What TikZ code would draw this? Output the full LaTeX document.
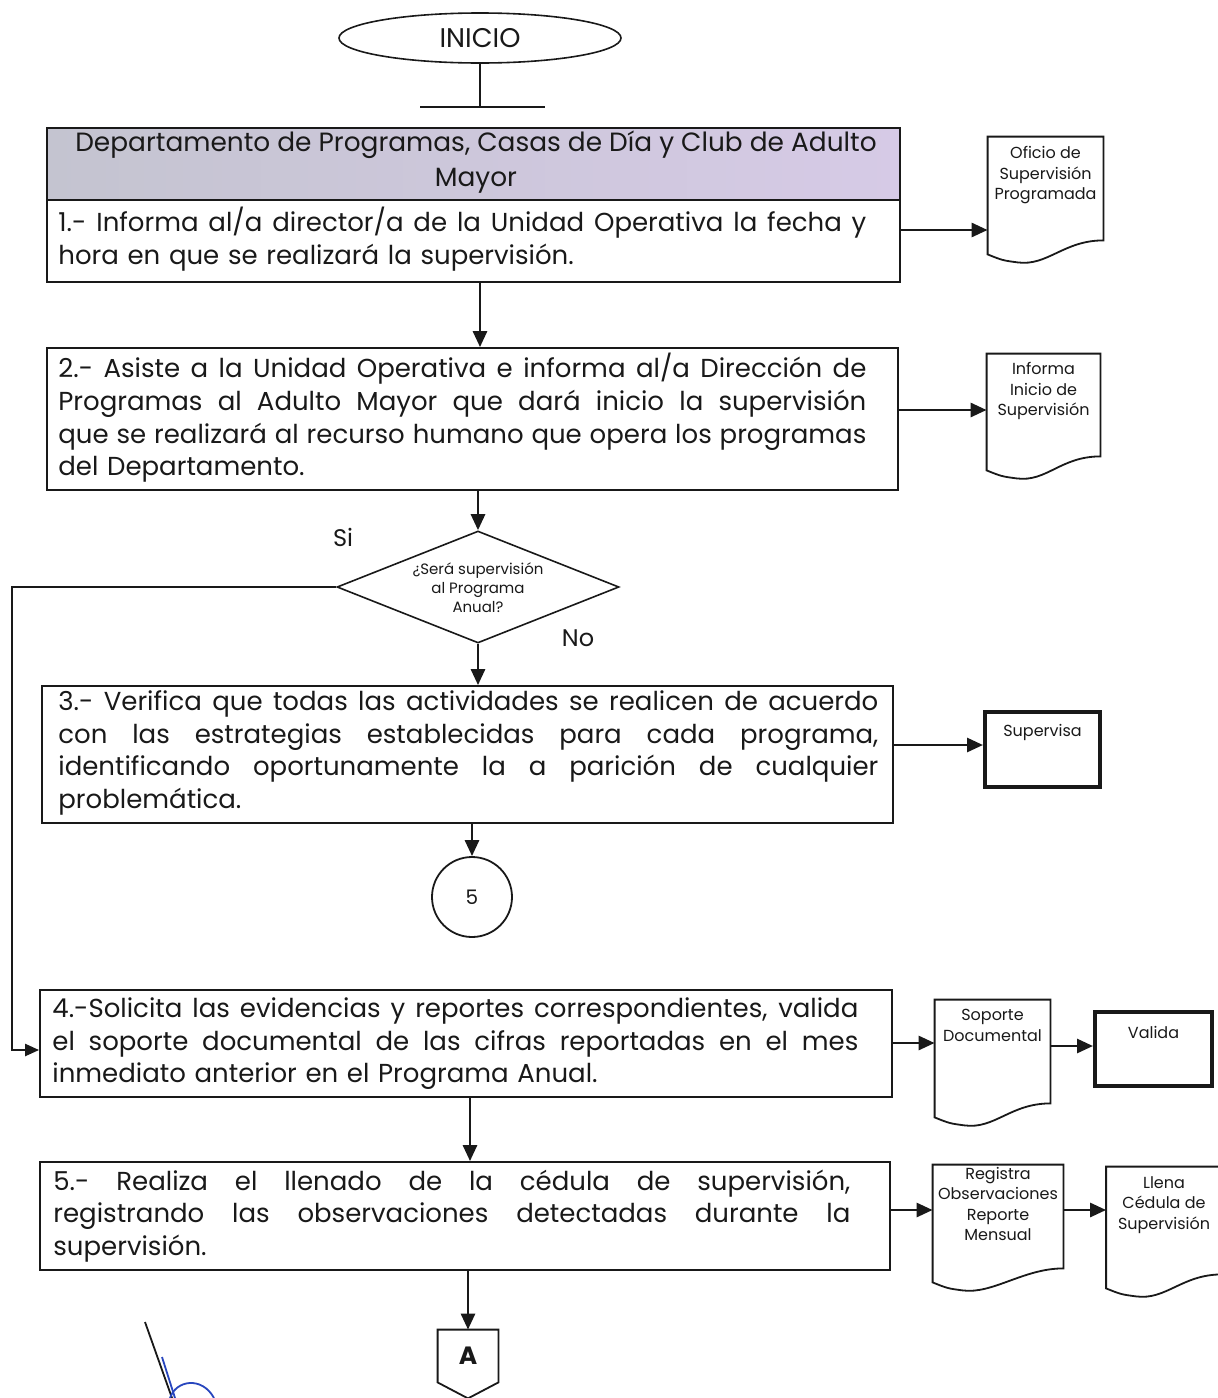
\documentclass[tikz,border=0pt]{standalone}
\usepackage{fontspec}
\setmainfont{Poppins}
\usetikzlibrary{arrows.meta,calc,shapes.geometric}

\definecolor{hdrA}{RGB}{196,196,208}
\definecolor{hdrB}{RGB}{214,202,230}
\definecolor{ink}{RGB}{25,25,25}
\definecolor{sigblue}{RGB}{40,70,190}

% one justified line of a given width (word spaces allowed to stretch)
\newcommand\jl[2]{\makebox[#1][s]{\spaceskip=\fontdimen2\font plus 1fil minus \fontdimen4\font
  \xspaceskip=\spaceskip\relax #2}}

% outline of a document symbol around a named node
\newcommand\docoutline[1]{%
  \draw[docline] (#1.north west) -- (#1.north east)
    -- ($(#1.south east)+(0,-22)$)
    .. controls ($(#1.south east)+(-40,-22)$) and ($(#1.south west)+(60,4)$) .. ($(#1.south west)+(30,0)$)
    .. controls ($(#1.south west)+(15,-2)$) .. ($(#1.south west)+(0,-8)$)
    -- cycle;}

\begin{document}
\begin{tikzpicture}[x=0.5pt,y=-0.5pt,
  every node/.style={text=ink},
  box/.style={draw=ink, line width=0.9pt, rectangle, inner sep=0},
  thickbox/.style={draw=ink, line width=2pt, rectangle, inner sep=0, fill=white},
  docnode/.style={rectangle, inner sep=0},
  docline/.style={draw=ink, line width=0.9pt, fill=white},
  arr/.style={draw=ink, line width=1.4pt, -{Triangle[length=8pt,width=7pt]}},
  thinarr/.style={draw=ink, line width=1.1pt, -{Triangle[length=7pt,width=6pt]}},
  steptext/.style={inner sep=0, anchor=west, align=left, font=\fontsize{13}{16.3}\selectfont},
  smalltext/.style={inner sep=0, anchor=north, align=center, font=\fontsize{8}{10.2}\selectfont},
  labeltext/.style={inner sep=0, font=\fontsize{12}{14}\selectfont}
]
\useasboundingbox (0,0) rectangle (1218,1398);
\fill[white] (0,0) rectangle (1218,1398);

% start terminal
\node[ellipse, draw=ink, line width=0.8pt, minimum width=141pt, minimum height=25pt, inner sep=0,
      font=\fontsize{13.5}{15}\selectfont] (start) at (480,38) {INICIO};
\coordinate (tbar) at (480,107);
\draw[ink, line width=0.8pt] (start.south) -- (tbar);
\draw[ink, line width=0.8pt] ($(tbar)+(-60,0)$) -- ($(tbar)+(65,0)$);

% department header
\node[box, minimum width=426.5pt, minimum height=36pt, left color=hdrA, right color=hdrB] (hdr) at (473.5,164) {};
\node[inner sep=0, align=center, font=\fontsize{13.2}{17.5}\selectfont] (hdrt) at (476,162)
  {Departamento de Programas, Casas de Día y Club de Adulto\\Mayor};

% step 1
\node[box, minimum width=426.5pt, minimum height=41pt] (s1) at (473.5,241) {};
\node[steptext, text width=404pt] (t1) at (58,239)
  {\jl{404pt}{1.- Informa al/a director/a de la Unidad Operativa la fecha y}\\
   hora en que se realizará la supervisión.};

% step 2
\node[box, minimum width=425.5pt, minimum height=71pt] (s2) at (472.5,419) {};
\node[steptext, text width=404pt] (t2) at (58,418)
  {\jl{404pt}{2.- Asiste a la Unidad Operativa e informa al/a Dirección de}\\
   \jl{404pt}{Programas al Adulto Mayor que dará inicio la supervisión}\\
   \jl{404pt}{que se realizará al recurso humano que opera los programas}\\
   del Departamento.};

% decision
\node[diamond, draw=ink, line width=0.8pt, minimum width=141pt, minimum height=56pt, inner sep=0] (dec) at (478,587) {};
\node[inner sep=0, align=center, font=\fontsize{7.5}{9.5}\selectfont] (dect) at (478,588)
  {¿Será supervisión\\al Programa\\Anual?};
\node[labeltext] (si) at (343,537) {Si};
\node[labeltext] (no) at (578,638) {No};

% step 3
\node[box, minimum width=425.5pt, minimum height=68.5pt] (s3) at (467.5,754.5) {};
\node[steptext, text width=410pt] (t3) at (58,753)
  {\jl{410pt}{3.- Verifica que todas las actividades se realicen de acuerdo}\\
   \jl{410pt}{con las estrategias establecidas para cada programa,}\\
   \jl{410pt}{identificando oportunamente la a parición de cualquier}\\
   problemática.};

% connector 5
\node[circle, draw=ink, line width=0.9pt, minimum size=40pt, inner sep=0, font=\fontsize{10}{12}\selectfont] (c5) at (472,897) {5};

% step 4
\node[box, minimum width=426pt, minimum height=53.5pt] (s4) at (466,1043.5) {};
\node[steptext, text width=403pt] (t4) at (52,1044)
  {\jl{403pt}{4.-Solicita las evidencias y reportes correspondientes, valida}\\
   \jl{403pt}{el soporte documental de las cifras reportadas en el mes}\\
   inmediato anterior en el Programa Anual.};

% step 5
\node[box, minimum width=425pt, minimum height=54pt] (s5) at (465,1216) {};
\node[steptext, text width=398.5pt] (t5) at (53,1216)
  {\jl{398.5pt}{5.- Realiza el llenado de la cédula de supervisión,}\\
   \jl{398.5pt}{registrando las observaciones detectadas durante la}\\
   supervisión.};

% off-page connector
\node[inner sep=0, minimum width=30pt, minimum height=26pt, font=\bfseries\fontsize{12.5}{14}\selectfont] (offA) at (468,1356) {A};
\draw[ink, line width=0.9pt] (offA.north west) -- (offA.north east) -- (offA.south east)
  -- ($(offA.south)+(0,16)$) -- (offA.south west) -- cycle;

% documents
\node[docnode, minimum width=57.5pt, minimum height=62.5pt] (d1) at (1045.5,199.5) {};
\docoutline{d1}
\node[smalltext] (d1t) at (1045.5,146) {Oficio de\\Supervisión\\Programada};

\node[docnode, minimum width=56.5pt, minimum height=62pt] (d2) at (1043.5,416) {};
\docoutline{d2}
\node[smalltext] (d2t) at (1043.5,362) {Informa\\Inicio de\\Supervisión};

\node[docnode, minimum width=57.5pt, minimum height=62.5pt] (d3) at (992.5,1062.5) {};
\docoutline{d3}
\node[smalltext] (d3t) at (992.5,1009) {Soporte\\Documental};

\node[docnode, minimum width=65pt, minimum height=62.5pt] (d4) at (998,1227.5) {};
\docoutline{d4}
\node[smalltext] (d4t) at (998,1167) {Registra\\Observaciones\\Reporte\\Mensual};

\node[docnode, minimum width=57.5pt, minimum height=64.5pt] (d5) at (1164,1231.5) {};
\docoutline{d5}
\node[smalltext] (d5t) at (1164,1176) {Llena\\Cédula de\\Supervisión};

% process boxes with heavy frame
\node[thickbox, minimum width=57.5pt, minimum height=37.5pt] (sup) at (1042.5,749.5) {};
\node[smalltext] (supt) at (1042.5,724) {Supervisa};
\node[thickbox, minimum width=58.5pt, minimum height=37pt] (val) at (1153.5,1049) {};
\node[smalltext] (valt) at (1153.5,1026) {Valida};

% arrow heights
\coordinate (y1) at (0,230);
\coordinate (y2) at (0,410);
\coordinate (y3) at (0,745);
\coordinate (y4) at (0,1043);
\coordinate (y4b) at (0,1046);
\coordinate (y5) at (0,1210);
\coordinate (lft) at (12,1050);

% connectors
\draw[arr] (s1.south -| start.south) -- (s2.north -| start.south);
\draw[arr] (s1.east |- y1) -- (d1.west |- y1);
\draw[arr] (s2.east |- y2) -- (d2.west |- y2);
\draw[arr] (s2.south -| dec.north) -- (dec.north);
\draw[arr] (dec.south) -- (s3.north -| dec.south);
\draw[thinarr] (dec.west) -| (lft) -- (s4.west |- lft);
\draw[arr] (s3.east |- y3) -- (sup.west |- y3);
\draw[arr] (s3.south -| c5.north) -- (c5.north);
\draw[arr] (s4.east |- y4) -- (d3.west |- y4);
\draw[arr] (d3.east |- y4b) -- (val.west |- y4b);
\draw[arr] (s4.south -| 470,0) -- (s5.north -| 470,0);
\draw[arr] (s5.east |- y5) -- (d4.west |- y5);
\draw[arr] (d4.east |- y5) -- (d5.west |- y5);
\draw[arr] (s5.south -| offA.north) -- (offA.north);

% signature
\draw[ink, line width=0.9pt] (145,1322) -- (172,1398);
\draw[sigblue, line width=0.9pt] (162,1357) .. controls (168,1378) .. (175,1398);
\draw[sigblue, line width=0.9pt] (170,1398) .. controls (176,1380) and (202,1376) .. (214,1398);
\end{tikzpicture}
\end{document}
